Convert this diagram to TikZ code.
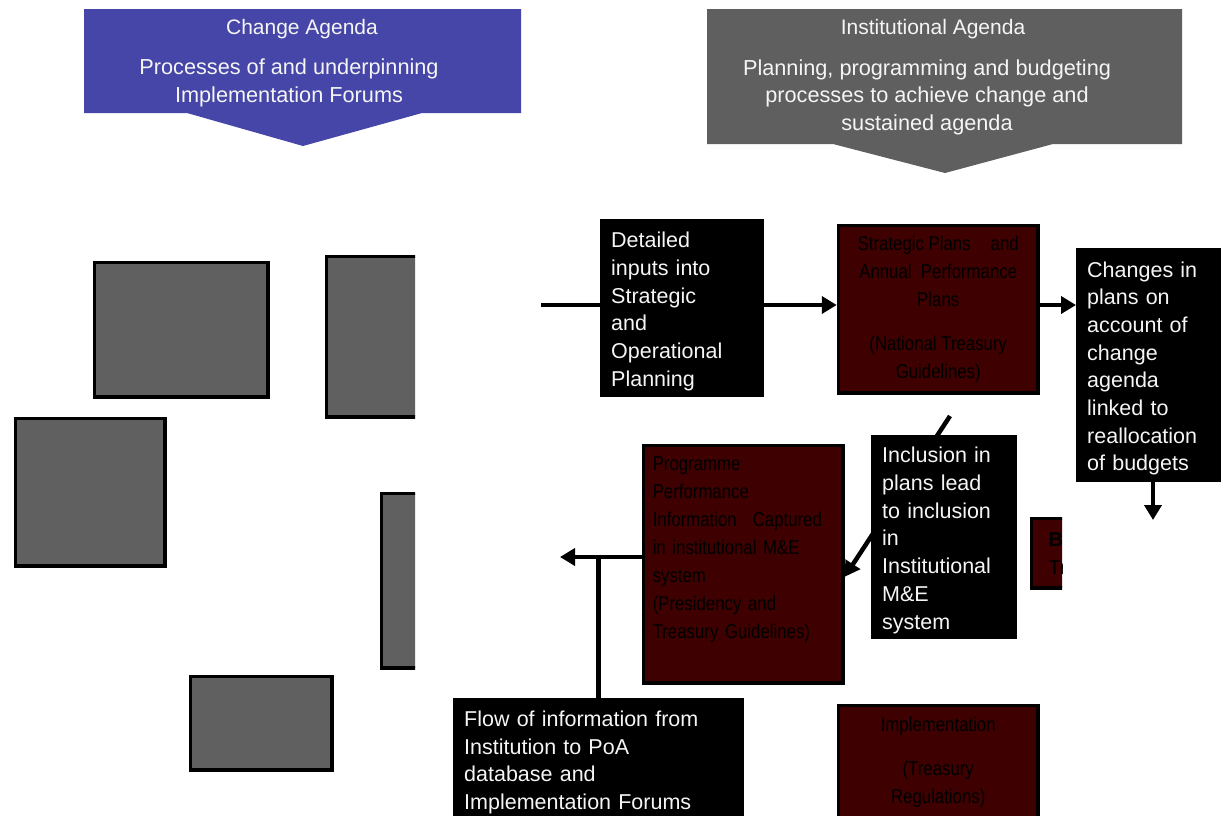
\documentclass[tikz,border=0pt]{standalone}
\usepackage{fontspec}
\setmainfont{Liberation Sans}
\newfontfamily\condfont[FakeStretch=0.84]{Liberation Sans}
\usetikzlibrary{arrows.meta,backgrounds,calc}
\definecolor{bannerblue}{RGB}{70,70,168}
\definecolor{bannergray}{RGB}{95,95,95}
\definecolor{slate}{RGB}{96,96,96}
\definecolor{plumred}{RGB}{62,0,0}
\definecolor{softwhite}{RGB}{245,245,245}
\definecolor{inkblack}{RGB}{0,0,0}

\begin{document}
\begin{tikzpicture}[x=1pt,y=-1pt,
  greybox/.style={draw=black,line width=3.5pt,fill=slate,anchor=north west,inner sep=0pt},
  notebox/.style={fill=black,text=softwhite,anchor=north west,inner xsep=11pt,inner ysep=0pt,
    align=left,font=\fontsize{21.5}{27.7}\selectfont,
    execute at begin node={\rule{0pt}{22pt}}},
  planbox/.style={draw=black,line width=3.5pt,fill=plumred,text=inkblack,anchor=north west,inner sep=0pt,
    align=center,font=\condfont\fontsize{20}{28}\selectfont\color{inkblack}},
  flow/.style={line width=4.5pt,-{Triangle[length=15pt,width=17pt]}},
  link/.style={line width=4.5pt},
  headtext/.style={text=softwhite,align=center,font=\fontsize{21}{27}\selectfont},
  subtext/.style={headtext,font=\fontsize{21.7}{27.5}\selectfont}]

\useasboundingbox (0,0) rectangle (1221,815);

% agenda banners
\fill[bannerblue] (84,9) -- (521,9) -- (521,113) -- (422,113) -- (303,146)
  -- (187,113) -- (84,113) -- cycle;
\fill[bannergray] (707,9) -- (1182,9) -- (1182,144) -- (1053,144) -- (945,173)
  -- (833,144) -- (707,144) -- cycle;
\node[headtext] (chgTitle) at (302,29) {Change Agenda};
\node[subtext] (chgSub) at (289,83) {Processes of and underpinning\\Implementation Forums};
\node[headtext] (instTitle) at (933,29) {Institutional Agenda};
\node[subtext] (instSub) at (927,97) {Planning, programming and budgeting\\processes to achieve change and\\sustained agenda};

% implementation forum blocks
\begin{scope}
  \clip (0,0) rectangle (415,815);
  \node[greybox,minimum width=173.5pt,minimum height=134.5pt] (forumA) at (92.75,260.75) {};
  \node[greybox,minimum width=130pt,minimum height=160.5pt] (forumB) at (324.75,254.75) {};
  \node[greybox,minimum width=149.5pt,minimum height=147.5pt] (forumC) at (13.75,416.75) {};
  \node[greybox,minimum width=80pt,minimum height=174.5pt] (forumD) at (379.75,491.75) {};
  \node[greybox,minimum width=141.5pt,minimum height=93.5pt] (forumE) at (188.75,674.75) {};
\end{scope}

% institutional planning chain
\node[notebox,text width=142pt,minimum height=178pt] (inputs) at (600,219)
  {Detailed\\inputs into\\Strategic\\and\\Operational\\Planning};
\node[planbox,minimum width=199.5pt,minimum height=167.5pt] (sp) at (836.75,223.75)
  {Strategic Plans\quad and\\Annual\ \ Performance\\Plans\\[16pt](National Treasury\\Guidelines)};
\node[notebox,text width=128pt,minimum height=234pt] (chg) at (1076,248)
  {Changes in\\plans on\\account of\\change\\agenda\\linked to\\reallocation\\of budgets};
\node[notebox,text width=124pt,minimum height=204pt] (incl) at (871,435)
  {Inclusion in\\plans lead\\to inclusion\\in\\Institutional\\M\&E\\system};
\node[planbox,align=left,inner xsep=9.25pt,text width=181pt,minimum height=237.5pt] (ppi) at (641.75,443.75)
  {Programme\\Performance\\Information\hspace{16pt}Captured\\in institutional M\&E\\system\\(Presidency and\\Treasury Guidelines)\\[6pt]\mbox{}};
\node[planbox,minimum width=199.5pt,minimum height=113pt] (impl) at (836.75,703.75)
  {Implementation\\[16pt](Treasury\\Regulations)};
\node[notebox,text width=269pt,minimum height=122pt] (flowbox) at (453,698)
  {Flow of information from\\Institution to PoA\\database and\\Implementation Forums};
\begin{scope}
  \clip (1000,500) rectangle (1062,600);
  \node[planbox,align=left,inner xsep=17pt,text width=40pt,minimum height=69.5pt,
    font=\fontsize{20}{28}\selectfont\color{inkblack}] (budget) at (1029.75,516.75) {\textbf{B}\\Tr};
\end{scope}

% connectors
\coordinate (inStart) at (541,305);
\coordinate (chgEnd) at (1153,520);
\coordinate (incStart) at (950,416);
\coordinate (poaTip) at (560,557);
\begin{scope}[on background layer]
  \draw[flow] (inStart) -- (inStart -| sp.west);
  \draw[flow] (sp.east |- inStart) -- (inStart -| chg.west);
  \draw[flow] (chgEnd |- chg.south) -- (chgEnd);
  \draw[flow] (incStart) -- ($(ppi.east)+(0,12.5)$);
  \draw[flow] (ppi.west |- poaTip) -- (poaTip);
  \draw[link] (flowbox.north) -- (flowbox.north |- poaTip);
\end{scope}
\end{tikzpicture}
\end{document}
